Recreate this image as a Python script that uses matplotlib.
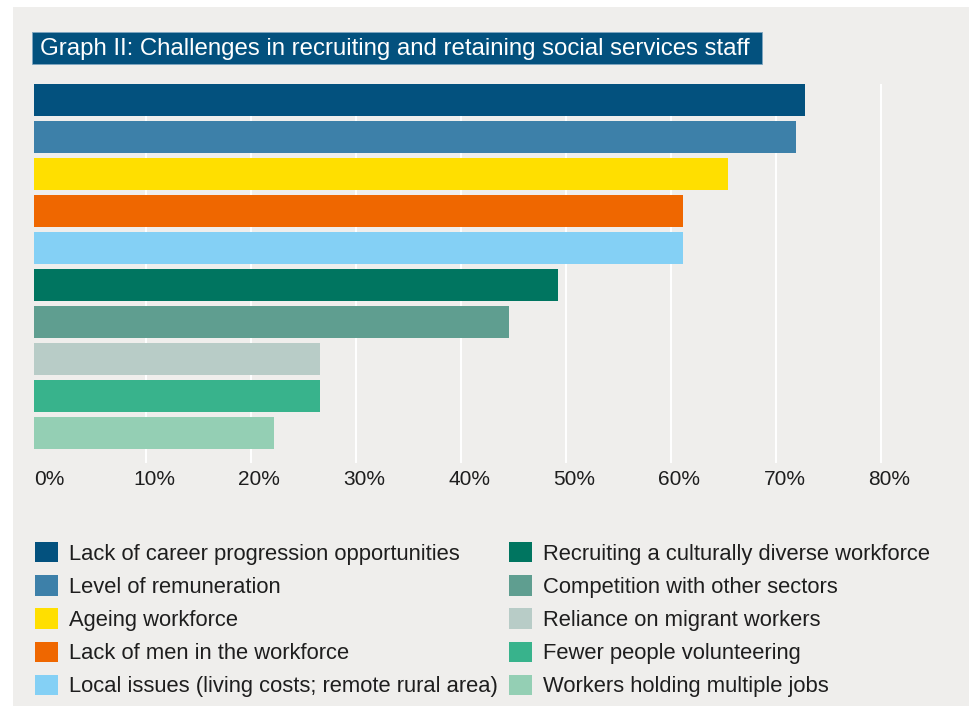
import matplotlib
matplotlib.use("Agg")
import matplotlib.pyplot as plt
from matplotlib.patches import Rectangle, Patch
from matplotlib.transforms import ScaledTranslation
import numpy as np

plt.rcParams['font.family'] = ['Liberation Sans', 'DejaVu Sans']

# data (percent of respondents)
challenges = [
    "Lack of career progression opportunities",
    "Level of remuneration",
    "Ageing workforce",
    "Lack of men in the workforce",
    "Local issues (living costs; remote rural area)",
    "Recruiting a culturally diverse workforce",
    "Competition with other sectors",
    "Reliance on migrant workers",
    "Fewer people volunteering",
    "Workers holding multiple jobs",
]
shares = [72.7, 71.9, 65.4, 61.1, 61.1, 49.2, 44.6, 26.6, 26.6, 22.2]
colors = ["#03517e", "#3d80a9", "#ffdf00", "#ef6700", "#84d0f5",
          "#007560", "#5f9e90", "#b8ccc7", "#38b38c", "#94cfb4"]
ticks = [0, 10, 20, 30, 40, 50, 60, 70, 80]
tick_labels = ["%d%%" % t for t in ticks]
title = "Graph II: Challenges in recruiting and retaining social services staff"

W, H = 969, 706
BG = "#efeeec"
NAVY = "#03517e"


def fx(px):
    return px / W


def fy(py):
    return 1 - py / H


fig = plt.figure(figsize=(W / 100, H / 100), dpi=100, facecolor="white")

# grey panel behind everything
fig.patches.append(Rectangle((fx(13), 0), 1 - fx(13), fy(7), transform=fig.transFigure,
                             facecolor=BG, edgecolor="none", zorder=-10))

# title box
fig.patches.append(Rectangle((fx(32), fy(64)), fx(762) - fx(32), fy(32) - fy(64),
                             transform=fig.transFigure, facecolor=NAVY,
                             edgecolor="#7ea6c0", linewidth=0.6, zorder=1))
fig.text(fx(40), fy(48.5), title, color="white", fontsize=17.3, va="center", ha="left", zorder=2)

ax = fig.add_axes([fx(34), fy(463), fx(940) - fx(34), fy(84) - fy(463)])
ax.set_facecolor("none")

x0 = -0.667
y = np.arange(len(shares))
bars = ax.barh(y, np.array(shares) - x0, left=x0, height=0.865, color=colors,
               edgecolor="none", zorder=3)

ax.set_xlim(x0, 85.6)
ax.set_ylim(9.81, -0.4325)
ax.set_xticks(ticks)
ax.set_xticklabels(tick_labels)
ax.set_yticks([])
ax.grid(axis="x", color="white", linewidth=1.4, zorder=0)
ax.set_axisbelow(True)
ax.xaxis.get_gridlines()[0].set_visible(False)
for s in ax.spines.values():
    s.set_visible(False)
ax.tick_params(axis="x", length=0, pad=5, labelsize=15, labelcolor="#1e1e1e")
offset = ScaledTranslation(6 / 72, 0, fig.dpi_scale_trans)
for lab in ax.get_xticklabels():
    lab.set_transform(lab.get_transform() + offset)

handles = [Patch(facecolor=c, edgecolor="none") for c in colors]
common = dict(frameon=False, fontsize=15.8, handlelength=1.05, handleheight=1.05,
              handletextpad=0.5, labelspacing=0.48, borderpad=0, borderaxespad=0,
              loc="upper left", labelcolor="#1e1e1e")
leg1 = fig.legend(handles[:5], challenges[:5], bbox_to_anchor=(fx(35), fy(542)), **common)
leg2 = fig.legend(handles[5:], challenges[5:], bbox_to_anchor=(fx(509), fy(542)), **common)

fig.savefig("out.png", dpi=100, facecolor="white")
